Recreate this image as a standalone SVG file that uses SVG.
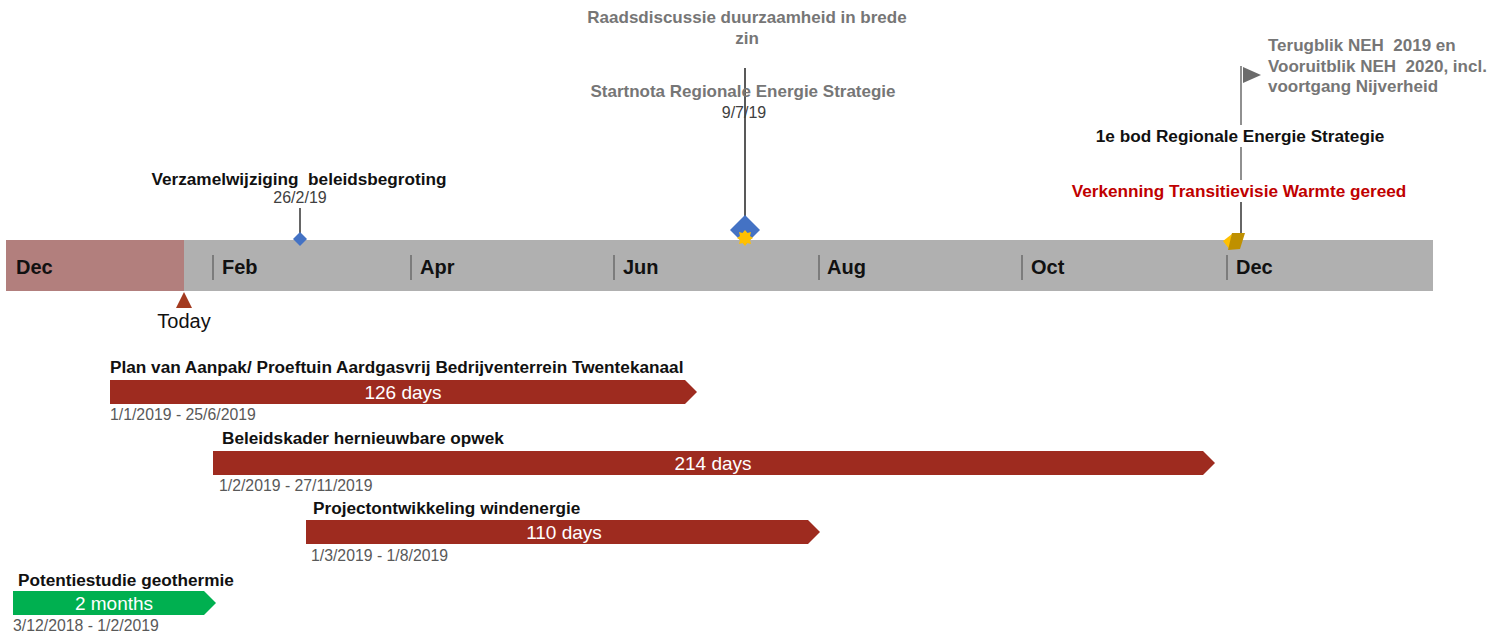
<svg xmlns="http://www.w3.org/2000/svg" width="1500" height="637" viewBox="0 0 1500 637">
<style>
text{font-family:"Liberation Sans",Arial,sans-serif}
.m{font-size:20px;font-weight:bold;fill:#111}
.tk{stroke:#6b6b6b;stroke-width:1.5}
.lbl{font-size:17.2px;font-weight:bold;fill:#111}
.gl{font-size:17px;font-weight:bold;fill:#767676}
.dt{font-size:15.8px;fill:#595959}
.bt{font-size:19px;fill:#fff;text-anchor:middle}
.red{fill:#9e2b1f}
</style>
<rect width="1500" height="637" fill="#fff"/>
<g id="timeline">
<rect x="6" y="240" width="1427" height="51" fill="#b0b0b0"/>
<rect x="6" y="240" width="178" height="51" fill="#b27f7d"/>
<text x="16" y="274" class="m">Dec</text>
<line class="tk" x1="213" y1="255" x2="213" y2="280"/><text x="222" y="274" class="m">Feb</text>
<line class="tk" x1="411" y1="255" x2="411" y2="280"/><text x="420" y="274" class="m">Apr</text>
<line class="tk" x1="614" y1="255" x2="614" y2="280"/><text x="623" y="274" class="m">Jun</text>
<line class="tk" x1="819" y1="255" x2="819" y2="280"/><text x="827" y="274" class="m">Aug</text>
<line class="tk" x1="1022" y1="255" x2="1022" y2="280"/><text x="1031" y="274" class="m">Oct</text>
<line class="tk" x1="1227" y1="255" x2="1227" y2="280"/><text x="1236" y="274" class="m">Dec</text>
</g>
<g id="today">
<polygon points="184,292 192,308 176,308" fill="#a33a1f"/>
<text x="184" y="328" font-size="20" fill="#111" text-anchor="middle">Today</text>
</g>
<g id="connectors">
<line x1="300" y1="208" x2="300" y2="233" stroke="#333" stroke-width="1.5"/>
<line x1="745" y1="68" x2="745" y2="232" stroke="#595959" stroke-width="2"/>
<line x1="1241" y1="66" x2="1241" y2="125" stroke="#6b6b6b" stroke-width="1.5"/>
<line x1="1241" y1="147" x2="1241" y2="180" stroke="#6b6b6b" stroke-width="1.5"/>
<line x1="1241" y1="202" x2="1241" y2="236" stroke="#333" stroke-width="1.5"/>
</g>
<g id="m1">
<polygon points="300,232 307,239 300,246 293,239" fill="#4472c4"/>
<text x="300" y="203" font-size="16" fill="#404040" text-anchor="middle">26/2/19</text>
<text x="299" y="185" class="lbl" text-anchor="middle" xml:space="preserve">Verzamelwijziging  beleidsbegroting</text>
</g>
<g id="m2">
<polygon points="745,215 760,230 745,245 730,230" fill="#4472c4"/>
<polygon points="745,230 747.5,233 751,232 750,236 753,238 750,240 751,244 747.5,243 745,246 742.5,243 739,244 740,240 737,238 740,236 739,232 742.5,233" fill="#ffc000"/>
<text x="747" y="23" class="gl" text-anchor="middle">Raadsdiscussie duurzaamheid in brede</text>
<text x="747" y="44" class="gl" text-anchor="middle">zin</text>
<text x="743" y="97" class="gl" text-anchor="middle">Startnota Regionale Energie Strategie</text>
<text x="744" y="118" font-size="16" fill="#404040" text-anchor="middle">9/7/19</text>
</g>
<g id="m3">
<polygon points="1243,67 1261,75 1243,83" fill="#6b6b6b"/>
<text x="1268" y="51" class="gl" xml:space="preserve">Terugblik NEH  2019 en</text>
<text x="1268" y="72" class="gl" xml:space="preserve">Vooruitblik NEH  2020, incl.</text>
<text x="1268" y="92" class="gl">voortgang Nijverheid</text>
<text x="1240" y="142" class="lbl" text-anchor="middle">1e bod Regionale Energie Strategie</text>
<text x="1239" y="197" font-size="17.2" font-weight="bold" fill="#c00000" text-anchor="middle">Verkenning Transitievisie Warmte gereed</text>
<polygon points="1223,241 1232,234 1230,250" fill="#ffc000"/>
<polygon points="1232,233 1245,233 1240,249 1228,250" fill="#bf9000"/>
</g>
<g id="task1">
<text x="110" y="373" class="lbl">Plan van Aanpak/ Proeftuin Aardgasvrij Bedrijventerrein Twentekanaal</text>
<polygon class="red" points="110,380 685,380 697,392 685,404 110,404"/>
<text x="403" y="399" class="bt">126 days</text>
<text x="110" y="420" class="dt">1/1/2019 - 25/6/2019</text>
</g>
<g id="task2">
<text x="222" y="444" class="lbl">Beleidskader hernieuwbare opwek</text>
<polygon class="red" points="213,451 1203,451 1215,463 1203,475 213,475"/>
<text x="713" y="470" class="bt">214 days</text>
<text x="219" y="491" class="dt">1/2/2019 - 27/11/2019</text>
</g>
<g id="task3">
<text x="313" y="514" class="lbl">Projectontwikkeling windenergie</text>
<polygon class="red" points="306,520 808,520 820,532 808,544 306,544"/>
<text x="564" y="539" class="bt">110 days</text>
<text x="311" y="561" class="dt">1/3/2019 - 1/8/2019</text>
</g>
<g id="task4">
<text x="18" y="586" class="lbl">Potentiestudie geothermie</text>
<polygon points="13,591 204,591 216,603 204,615 13,615" fill="#00b050"/>
<text x="114" y="610" class="bt">2 months</text>
<text x="13" y="631" class="dt">3/12/2018 - 1/2/2019</text>
</g>
</svg>
